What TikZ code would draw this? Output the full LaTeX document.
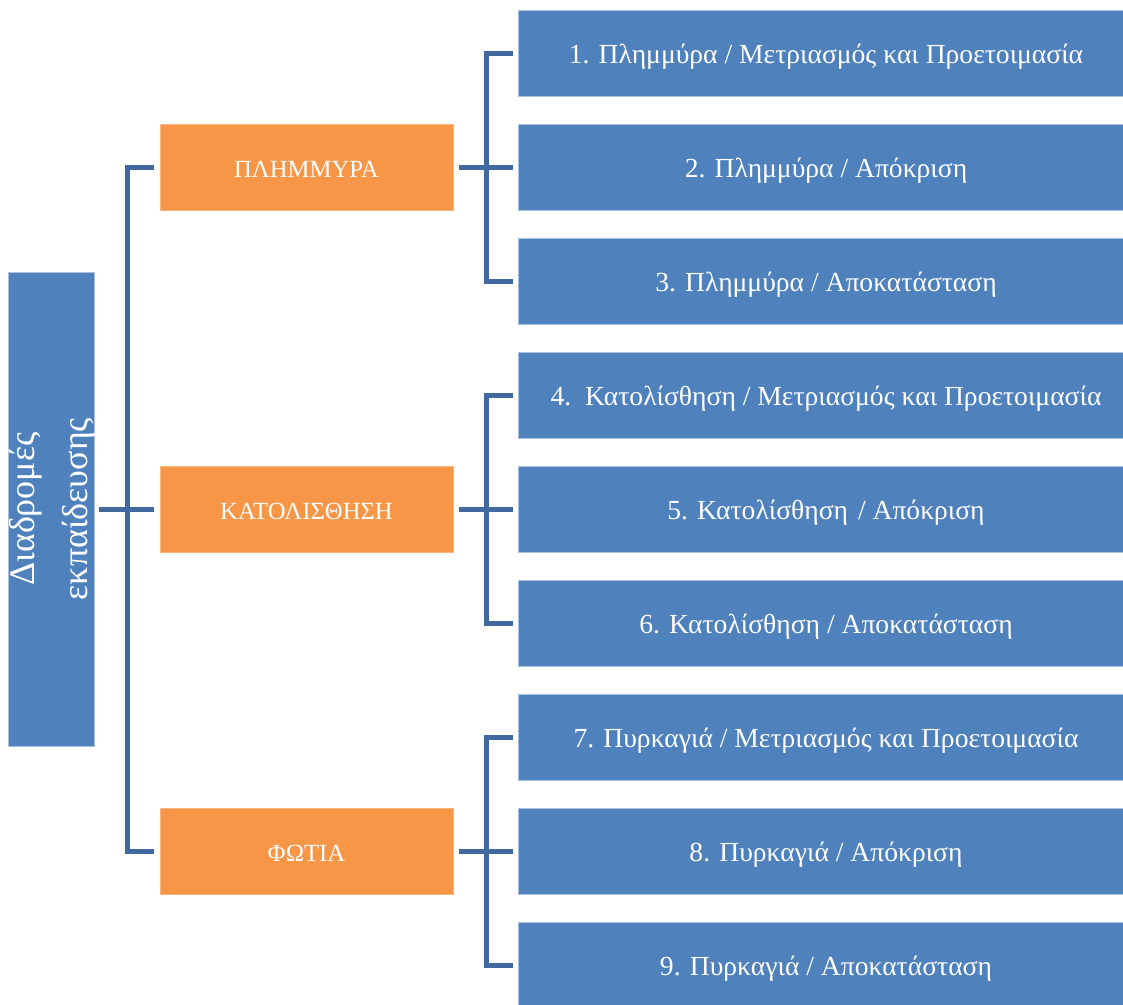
\documentclass[tikz,border=0pt]{standalone}
\usepackage{fontspec}
\setmainfont{Liberation Serif}
\definecolor{boxblue}{HTML}{4F81BD}
\definecolor{boxorange}{HTML}{F79646}
\definecolor{linkblue}{HTML}{41699F}
\definecolor{edgeblue}{HTML}{A9C0DE}
\begin{document}
\begin{tikzpicture}[x=1pt,y=-1pt,
  basebox/.style={rectangle,anchor=north west,inner sep=0pt,outer sep=0pt,text=white,align=center,
    text height=21pt,text depth=0pt},
  bluebox/.style={basebox,font=\fontsize{27.6}{32}\selectfont,fill=boxblue,draw=edgeblue,line width=0.8pt,minimum width=616pt,minimum height=86pt},
  orangebox/.style={basebox,font=\fontsize{24.7}{30}\selectfont,fill=boxorange,draw=boxorange!70!white,line width=0.8pt,minimum width=293pt,minimum height=86pt},
  rootbox/.style={basebox,fill=boxblue,draw=edgeblue,line width=0.8pt,minimum width=86pt,minimum height=474pt},
  link/.style={draw=linkblue,line width=5pt,line join=miter}]
\useasboundingbox (0,0) rectangle (1123,1004);
\fill[white] (0,0) rectangle (1123,1004);
\node[rootbox] (L) at (8,272) {};
\node[text=white,rotate=90,align=center,font=\fontsize{36}{53}\selectfont] (Lt) at ([xshift=1pt]L.center) {Διαδρομές\\εκπαίδευσης};
\node[orangebox] (O1) at (160,124) {ΠΛΗΜΜΥΡΑ};
\node[orangebox] (O2) at (160,466) {ΚΑΤΟΛΙΣΘΗΣΗ};
\node[orangebox] (O3) at (160,808) {ΦΩΤΙΑ};
\node[bluebox] (B1) at (518,10) {1. Πλημμύρα / Μετριασμός και Προετοιμασία};
\node[bluebox] (B2) at (518,124) {2. Πλημμύρα / Απόκριση};
\node[bluebox] (B3) at (518,238) {3. Πλημμύρα / Αποκατάσταση};
\node[bluebox] (B4) at (518,352) {4.\ \ Κατολίσθηση / Μετριασμός και Προετοιμασία};
\node[bluebox] (B5) at (518,466) {5. Κατολίσθηση\hspace{3pt} / Απόκριση};
\node[bluebox] (B6) at (518,580) {6. Κατολίσθηση / Αποκατάσταση};
\node[bluebox] (B7) at (518,694) {7. Πυρκαγιά / Μετριασμός και Προετοιμασία};
\node[bluebox] (B8) at (518,808) {8. Πυρκαγιά / Απόκριση};
\node[bluebox] (B9) at (518,922) {9. Πυρκαγιά / Αποκατάσταση};
% left tree
\draw[link] ([xshift=5pt]L.east) -- ([xshift=-6pt]O2.west);
\draw[link] ([xshift=-6pt]O1.west) -- ++(-27,0) |- ([xshift=-6pt]O3.west);
% right trees
\foreach \o/\a/\b/\c in {O1/B1/B2/B3,O2/B4/B5/B6,O3/B7/B8/B9}{
  \draw[link] ([xshift=6pt]\o.east) -- ([xshift=-5pt]\b.west);
  \draw[link] ([xshift=-5pt]\a.west) -- ++(-27,0) |- ([xshift=-5pt]\c.west);
}
\end{tikzpicture}
\end{document}
